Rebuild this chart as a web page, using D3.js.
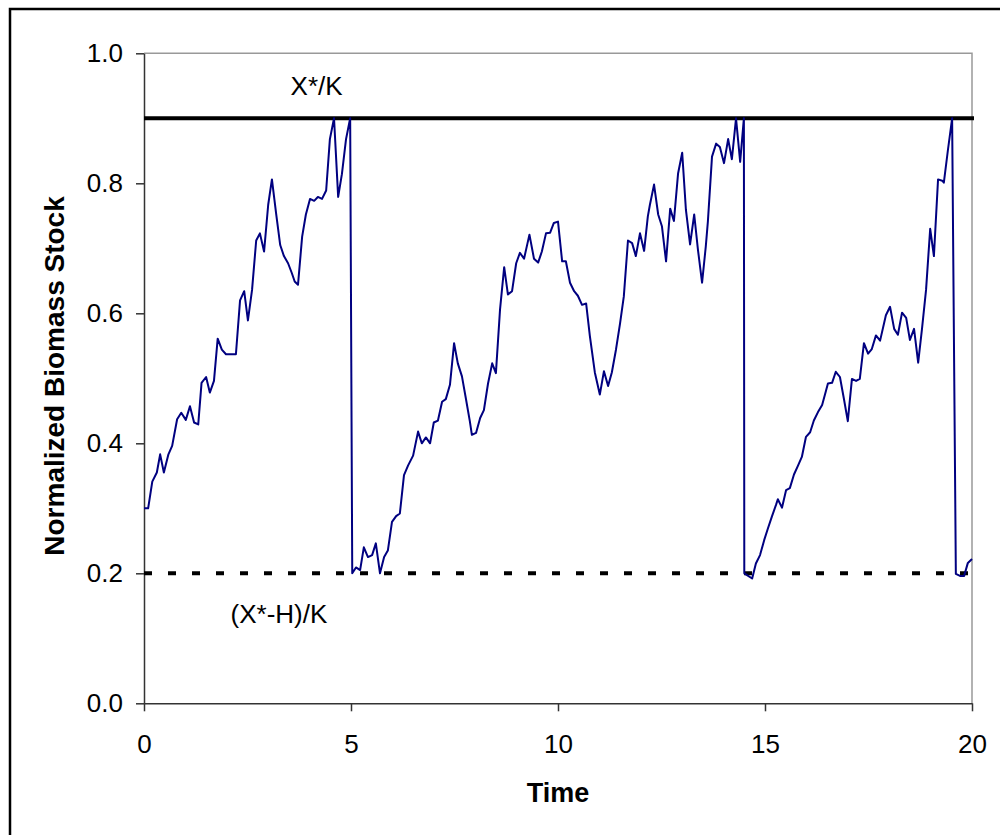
<!DOCTYPE html>
<html lang="en">
<head>
  <meta charset="UTF-8">
  <title>Normalized Biomass Stock</title>
  <script src="https://d3js.org/d3.v7.min.js"></script>
  <style>
    body { margin: 0; background: #fff; }
    text { font-family: "Liberation Sans", Arial, sans-serif; fill: #000; }
    .axis path, .axis line { stroke: #333; stroke-width: 1.5; }
    .axis text { font-size: 26px; }
    .axis-title { font-size: 27px; font-weight: bold; text-anchor: middle; }
    .note { font-size: 26px; text-anchor: middle; }
  </style>
</head>
<body>
  <div id="chart"></div>
  <script>
    // time points and normalized stock
    const time = [
      0, 0.10, 0.20, 0.31, 0.39, 0.48, 0.59, 0.68, 0.80, 0.90, 1.01, 1.11, 1.21, 1.31, 1.39, 1.50,
      1.59, 1.69, 1.78, 1.88, 1.98, 2.08, 2.17, 2.22, 2.32, 2.42, 2.51, 2.61, 2.71, 2.80, 2.90, 3.00,
      3.09, 3.19, 3.29, 3.38, 3.48, 3.57, 3.64, 3.72, 3.82, 3.91, 4.01, 4.11, 4.20, 4.30, 4.40, 4.49,
      4.59, 4.69, 4.78, 4.88, 4.98,
      5.03, 5.12, 5.22, 5.31, 5.41, 5.51, 5.60, 5.70, 5.80, 5.89, 5.99, 6.09, 6.18, 6.28, 6.38, 6.50,
      6.62, 6.71, 6.81, 6.91, 7.00, 7.10, 7.20, 7.29, 7.39, 7.49, 7.58, 7.68, 7.78, 7.87, 7.92, 8.02,
      8.12, 8.21, 8.31, 8.41, 8.50, 8.60, 8.70, 8.79, 8.89, 8.99, 9.08, 9.18, 9.31, 9.42, 9.52, 9.61,
      9.71, 9.81, 9.90, 10.00, 10.10, 10.19, 10.29, 10.39, 10.48, 10.58, 10.68, 10.77, 10.89, 11.01,
      11.11, 11.21, 11.30, 11.40, 11.50, 11.59, 11.69, 11.79, 11.88, 11.98, 12.08, 12.17, 12.22, 12.32,
      12.42, 12.51, 12.61, 12.71, 12.80, 12.90, 13.00, 13.09, 13.19, 13.29, 13.38, 13.48, 13.57, 13.62,
      13.72, 13.82, 13.91, 14.01, 14.11, 14.20, 14.30, 14.40, 14.49,
      14.50, 14.69, 14.78, 14.88, 14.98, 15.07, 15.17, 15.27, 15.31, 15.41, 15.51, 15.60, 15.70, 15.80,
      15.89, 15.99, 16.09, 16.18, 16.28, 16.38, 16.47, 16.52, 16.62, 16.71, 16.81, 16.91, 17.00, 17.10,
      17.20, 17.29, 17.39, 17.49, 17.58, 17.68, 17.78, 17.92, 18.02, 18.12, 18.21, 18.31, 18.41, 18.50,
      18.60, 18.70, 18.79, 18.89, 18.99, 19.08, 19.18, 19.28, 19.32, 19.42, 19.52,
      19.61, 19.71, 19.81, 19.90, 20.00
    ];
    const stock = [
      0.300, 0.300, 0.341, 0.355, 0.383, 0.355, 0.383, 0.396, 0.437, 0.447, 0.436, 0.457, 0.432, 0.429, 0.493, 0.502,
      0.478, 0.496, 0.561, 0.544, 0.537, 0.537, 0.537, 0.537, 0.620, 0.634, 0.589, 0.636, 0.712, 0.723, 0.695, 0.767,
      0.806, 0.754, 0.705, 0.688, 0.677, 0.662, 0.649, 0.644, 0.718, 0.752, 0.776, 0.773, 0.779, 0.776, 0.789, 0.868,
      0.900, 0.779, 0.814, 0.868, 0.900,
      0.200, 0.209, 0.205, 0.240, 0.225, 0.228, 0.246, 0.200, 0.225, 0.235, 0.279, 0.288, 0.292, 0.351, 0.366, 0.381,
      0.418, 0.400, 0.409, 0.400, 0.432, 0.435, 0.464, 0.468, 0.490, 0.554, 0.523, 0.503, 0.467, 0.434, 0.413, 0.416,
      0.439, 0.451, 0.492, 0.523, 0.508, 0.606, 0.671, 0.629, 0.634, 0.677, 0.693, 0.684, 0.721, 0.684, 0.678, 0.695,
      0.723, 0.724, 0.739, 0.741, 0.680, 0.680, 0.647, 0.634, 0.627, 0.613, 0.615, 0.565, 0.509, 0.475,
      0.511, 0.488, 0.509, 0.544, 0.585, 0.626, 0.712, 0.708, 0.688, 0.723, 0.696, 0.749, 0.767, 0.798,
      0.752, 0.734, 0.680, 0.761, 0.742, 0.815, 0.847, 0.759, 0.706, 0.752, 0.698, 0.647, 0.703, 0.741,
      0.841, 0.861, 0.856, 0.831, 0.868, 0.837, 0.900, 0.833, 0.900,
      0.200, 0.192, 0.215, 0.228, 0.251, 0.269, 0.288, 0.306, 0.314, 0.301, 0.328, 0.331, 0.352, 0.366,
      0.379, 0.410, 0.417, 0.435, 0.448, 0.459, 0.480, 0.492, 0.493, 0.510, 0.502, 0.467, 0.434, 0.499,
      0.496, 0.499, 0.554, 0.538, 0.545, 0.566, 0.558, 0.597, 0.610, 0.576, 0.567, 0.601, 0.593, 0.559,
      0.576, 0.524, 0.575, 0.636, 0.730, 0.688, 0.806, 0.804, 0.801, 0.852, 0.900,
      0.199, 0.196, 0.196, 0.216, 0.222
    ];
    const yTicks = [0, 0.2, 0.4, 0.6, 0.8, 1.0];
    const xTicks = [0, 5, 10, 15, 20];
    const upperLevel = 0.9;   // X*/K
    const lowerLevel = 0.2;   // (X*-H)/K

    const W = 1000, H = 835;
    const plotLeft = 144, plotRight = 972, plotTop = 53.3, plotBottom = 703.3;

    const svg = d3.select("#chart")
                  .append("svg")
                  .attr("width", W)
                  .attr("height", H);

    const x = d3.scaleLinear().domain([0, 20]).range([plotLeft, plotRight]);
    const y = d3.scaleLinear().domain([0, 1]).range([plotBottom, plotTop]);

    // outer frame (runs off the right and bottom edges)
    svg.append("rect")
       .attr("x", 10).attr("y", 9)
       .attr("width", W).attr("height", H)
       .attr("fill", "none")
       .attr("stroke", "#000")
       .attr("stroke-width", 2.5);

    // plot area border (top and right)
    svg.append("path")
       .attr("d", `M${plotLeft},${plotTop}H${plotRight}V${plotBottom}`)
       .attr("fill", "none")
       .attr("stroke", "#999")
       .attr("stroke-width", 1.5);

    // axes
    svg.append("g")
       .attr("class", "axis")
       .attr("transform", `translate(${plotLeft},0)`)
       .call(d3.axisLeft(y).tickValues(yTicks).tickFormat(d3.format(".1f"))
               .tickSize(8).tickSizeOuter(0).tickPadding(13));

    svg.append("g")
       .attr("class", "axis")
       .attr("transform", `translate(0,${plotBottom})`)
       .call(d3.axisBottom(x).tickValues(xTicks).tickFormat(d3.format("d"))
               .tickSize(8).tickSizeOuter(0).tickPadding(23));

    // reference levels
    svg.append("line")
       .attr("x1", x(0)).attr("x2", x(20) + 2)
       .attr("y1", y(upperLevel)).attr("y2", y(upperLevel))
       .attr("stroke", "#000")
       .attr("stroke-width", 4);

    svg.append("line")
       .attr("x1", x(0)).attr("x2", x(20))
       .attr("y1", y(lowerLevel)).attr("y2", y(lowerLevel))
       .attr("stroke", "#000")
       .attr("stroke-width", 4)
       .attr("stroke-dasharray", "8,16");

    // biomass series
    const series = time.map((t, i) => ({ t: t, v: stock[i] }));
    svg.append("path")
       .datum(series)
       .attr("fill", "none")
       .attr("stroke", "#000080")
       .attr("stroke-width", 2)
       .attr("stroke-linejoin", "round")
       .attr("d", d3.line().x(d => x(d.t)).y(d => y(d.v)));

    // level labels
    svg.append("text")
       .attr("class", "note")
       .attr("x", x(4.17))
       .attr("y", y(0.936))
       .text("X*/K");

    svg.append("text")
       .attr("class", "note")
       .attr("x", x(3.26))
       .attr("y", y(0.123))
       .text("(X*-H)/K");

    // axis titles
    svg.append("text")
       .attr("class", "axis-title")
       .attr("x", (plotLeft + plotRight) / 2)
       .attr("y", 802)
       .text("Time");

    svg.append("text")
       .attr("class", "axis-title")
       .attr("transform", "rotate(-90)")
       .attr("x", -376)
       .attr("y", 64)
       .style("font-size", "28px")
       .text("Normalized Biomass Stock");
  </script>
</body>
</html>
